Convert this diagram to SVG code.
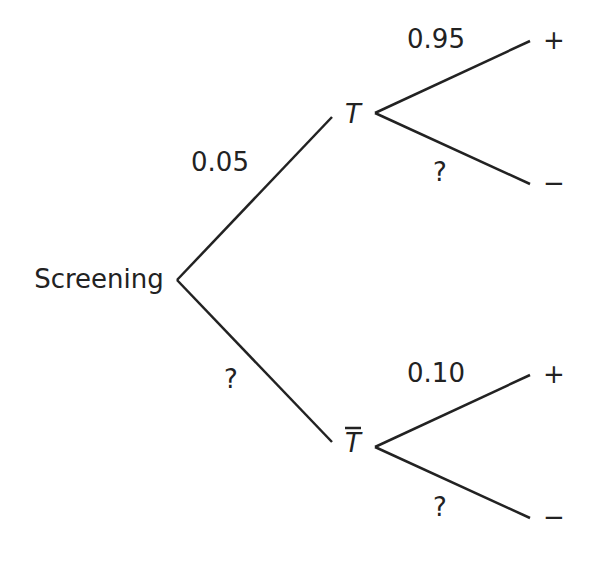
<svg xmlns="http://www.w3.org/2000/svg" width="599" height="561" viewBox="0 0 599 561">
<style>
text{font-family:"DejaVu Sans",sans-serif;font-size:26px;fill:#222;text-anchor:middle;dominant-baseline:central}
.it{font-style:italic}
line{stroke:#222;stroke-width:2.5;fill:none}
</style>
<rect width="599" height="561" fill="#fff"/>
<g id="connectors">
<line x1="177" y1="280" x2="332" y2="117"/>
<line x1="177" y1="280" x2="332" y2="442"/>
<line x1="375" y1="113" x2="530" y2="41"/>
<line x1="375" y1="113" x2="530" y2="184"/>
<line x1="375" y1="447" x2="530" y2="375"/>
<line x1="375" y1="447" x2="530" y2="518"/>
</g>
<g id="labels">
<text x="220" y="162">0.05</text>
<text x="231" y="379">?</text>
<text x="436" y="39">0.95</text>
<text x="440" y="172">?</text>
<text x="436" y="373">0.10</text>
<text x="440" y="507">?</text>
</g>
<g id="screening"><text x="99" y="279">Screening</text></g>
<g id="T"><text class="it" x="353" y="114">T</text></g>
<g id="Tbar"><text class="it" x="353" y="443">T</text><line x1="345" y1="428" x2="361" y2="428"/></g>
<g id="Tplus"><text x="554" y="40">+</text></g>
<g id="Tminus"><text x="554" y="183">−</text></g>
<g id="Tbarplus"><text x="554" y="374">+</text></g>
<g id="Tbarminus"><text x="554" y="517">−</text></g>
</svg>
